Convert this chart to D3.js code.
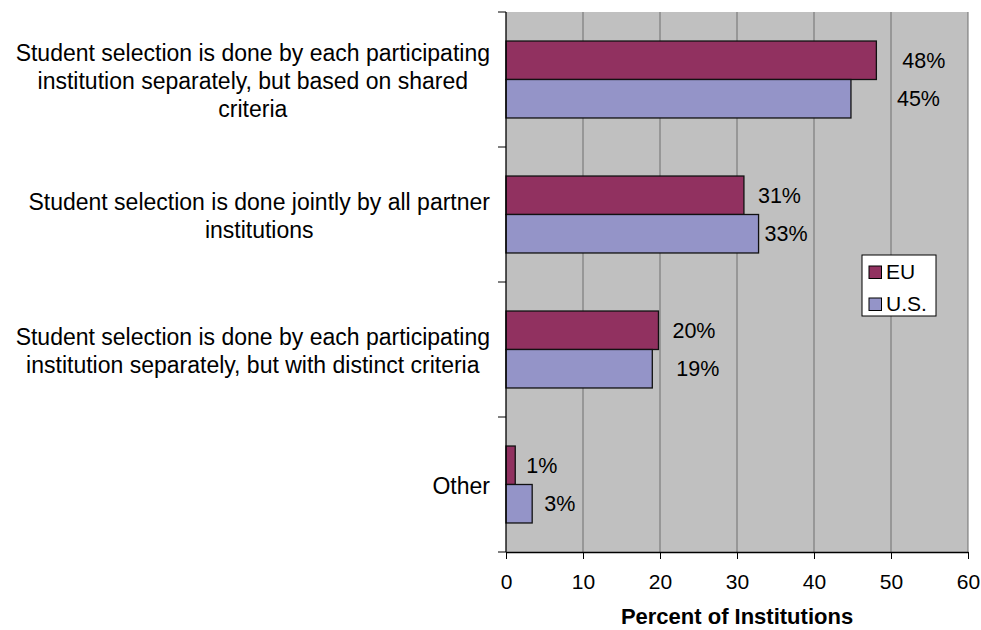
<!DOCTYPE html>
<html><head><meta charset="utf-8">
<script src="https://cdn.jsdelivr.net/npm/d3@7"></script>
<style>html,body{margin:0;padding:0;background:#fff;}svg{display:block;font-family:"Liberation Sans",Arial,sans-serif;}</style>
</head><body>
<svg id="chart" width="981" height="630"></svg>
<script>
const categories = [
  "Student selection is done by each participating\ninstitution separately, but based on shared\ncriteria",
  "Student selection is done jointly by all partner\ninstitutions",
  "Student selection is done by each participating\ninstitution separately, but with distinct criteria",
  "Other"
];
const seriesNames = ["EU", "U.S."];
const euValues = [48.1, 30.9, 19.8, 1.2];
const usValues = [44.8, 32.8, 19.0, 3.4];
const euLabels = ["48%", "31%", "20%", "1%"];
const usLabels = ["45%", "33%", "19%", "3%"];
const xTicks = [0, 10, 20, 30, 40, 50, 60];
const xTitle = "Percent of Institutions";

(function () {
const colors = {"EU": "#913160", "U.S.": "#9494C8"};
const svg = d3.select("#chart");
const pL = 506, pR = 968, pT = 12, pB = 552;

const x = d3.scaleLinear().domain([0, 60]).range([pL, pR]);
const y = d3.scaleBand().domain(d3.range(categories.length)).range([pT, pB]).paddingInner(0.43).paddingOuter(0.215);
const ySub = d3.scaleBand().domain(seriesNames).range([0, y.bandwidth()]);

svg.append("rect").attr("x", pL).attr("y", pT).attr("width", pR - pL).attr("height", pB - pT).attr("fill", "#C0C0C0");
svg.selectAll("line.grid").data(xTicks.filter(d => d > 0)).enter().append("line")
  .attr("x1", d => x(d)).attr("x2", d => x(d)).attr("y1", pT).attr("y2", pB)
  .attr("stroke", "#6e6e6e").attr("stroke-width", 1);

const series = [{name: "EU", values: euValues, labels: euLabels}, {name: "U.S.", values: usValues, labels: usLabels}];
const labelNudge = {"EU": [26, 14, 14, 11], "U.S.": [46, 6, 24, 12]};
series.forEach(s => {
  const g = svg.append("g");
  g.selectAll("rect").data(s.values).enter().append("rect")
    .attr("x", x(0)).attr("y", (d, i) => y(i) + ySub(s.name))
    .attr("width", d => x(d) - x(0)).attr("height", ySub.bandwidth())
    .attr("fill", colors[s.name]).attr("stroke", "#111").attr("stroke-width", 1.3);
  g.selectAll("text").data(s.values).enter().append("text")
    .attr("x", (d, i) => x(d) + labelNudge[s.name][i])
    .attr("y", (d, i) => y(i) + ySub(s.name) + ySub.bandwidth() / 2 + 7.7)
    .attr("font-size", 21.5).attr("fill", "#000")
    .text((d, i) => s.labels[i]);
});

const xAxis = d3.axisBottom(x).tickValues(xTicks).tickSize(7).tickPadding(15).tickSizeOuter(0);
const gx = svg.append("g").attr("transform", `translate(0,${pB})`).call(xAxis);
gx.select(".domain").attr("stroke", "#000").attr("stroke-width", 1.3);
gx.selectAll(".tick line").attr("stroke", "#000");
gx.selectAll(".tick text").attr("font-size", 21).attr("fill", "#000").attr("font-family", "Liberation Sans, Arial, sans-serif");

const boundaries = d3.range(categories.length + 1).map(i => pT + i * y.step());
svg.append("line").attr("x1", pL).attr("x2", pL).attr("y1", pT).attr("y2", pB).attr("stroke", "#000").attr("stroke-width", 1.3);
svg.selectAll("line.ytick").data(boundaries).enter().append("line")
  .attr("x1", pL - 8).attr("x2", pL).attr("y1", d => d).attr("y2", d => d)
  .attr("stroke", "#000").attr("stroke-width", 1);

categories.forEach((c, i) => {
  const lines = c.split("\n");
  const center = y(i) + y.bandwidth() / 2;
  const g = svg.append("g");
  const texts = lines.map((ln, j) => g.append("text")
    .attr("y", center + (j - (lines.length - 1) / 2) * 28.3 + 9.5)
    .attr("font-size", 23).attr("fill", "#000").attr("text-anchor", "middle").text(ln));
  const maxW = d3.max(texts, t => t.node().getComputedTextLength());
  texts.forEach(t => t.attr("x", 490 - maxW / 2));
});

svg.append("text").attr("x", (pL + pR) / 2).attr("y", 624).attr("text-anchor", "middle")
  .attr("font-size", 22).attr("font-weight", "bold").attr("fill", "#000").text(xTitle);

const lg = svg.append("g");
lg.append("rect").attr("x", 862).attr("y", 255).attr("width", 74).attr("height", 61).attr("fill", "#fff").attr("stroke", "#000").attr("stroke-width", 1);
seriesNames.forEach((n, i) => {
  const yy = 266 + i * 32;
  lg.append("rect").attr("x", 869).attr("y", yy).attr("width", 12.5).attr("height", 12.5).attr("fill", colors[n]).attr("stroke", "#000").attr("stroke-width", 1);
  lg.append("text").attr("x", 886).attr("y", yy + 13.3).attr("font-size", 21).attr("fill", "#000").text(n);
});
})();
</script>
</body></html>
